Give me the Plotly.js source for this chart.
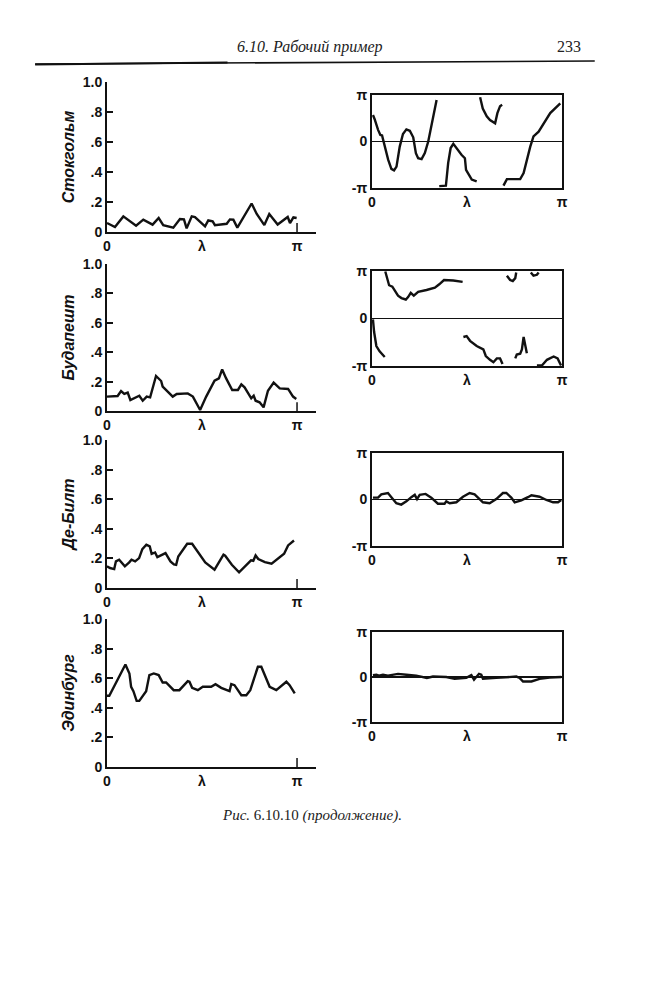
<!DOCTYPE html>
<html>
<head>
<meta charset="utf-8">
<script src="https://cdn.plot.ly/plotly-3.0.1.min.js"></script>
<style>html,body{margin:0;padding:0;background:#fff;}#chart{width:650px;height:1000px;}</style>
</head>
<body>
<div id="chart"></div>
<script>
// frequency in units of pi (0..1 = 0..π)
const stations = ["Стокгольм", "Будапешт", "Де-Билт", "Эдинбург"];

// Coherence-like amplitude (left column)
const ampStockholmX = [0,0.042,0.086,0.153,0.191,0.240,0.272,0.296,0.349,0.384,0.405,0.419,0.446,0.463,0.516,0.533,0.556,0.568,0.630,0.647,0.665,0.686,0.761,0.788,0.828,0.854,0.898,0.951,0.963,0.981,0.998];
const ampStockholmY = [0.06,0.033,0.104,0.042,0.082,0.049,0.093,0.046,0.029,0.086,0.084,0.024,0.104,0.10,0.038,0.077,0.071,0.046,0.055,0.084,0.082,0.029,0.19,0.12,0.046,0.12,0.05,0.10,0.06,0.097,0.093];

const ampBudapestX = [0,0.056,0.074,0.091,0.109,0.123,0.170,0.188,0.209,0.227,0.258,0.285,0.293,0.311,0.346,0.367,0.425,0.452,0.490,0.522,0.566,0.589,0.606,0.627,0.659,0.689,0.707,0.724,0.759,0.772,0.782,0.803,0.824,0.847,0.877,0.909,0.953,0.979,0.996];
const ampBudapestY = [0.098,0.102,0.136,0.116,0.125,0.075,0.104,0.070,0.098,0.093,0.238,0.204,0.166,0.143,0.098,0.116,0.120,0.098,0.007,0.098,0.206,0.222,0.283,0.222,0.143,0.143,0.181,0.161,0.086,0.104,0.070,0.059,0.025,0.138,0.193,0.154,0.150,0.098,0.082];

const ampDeBiltX = [0,0.016,0.038,0.047,0.064,0.094,0.117,0.129,0.148,0.169,0.186,0.207,0.225,0.235,0.253,0.265,0.308,0.334,0.352,0.364,0.375,0.399,0.422,0.448,0.483,0.517,0.566,0.613,0.622,0.657,0.695,0.718,0.758,0.770,0.782,0.796,0.831,0.866,0.901,0.932,0.953,0.984];
const ampDeBiltY = [0.146,0.135,0.128,0.180,0.191,0.146,0.173,0.191,0.180,0.202,0.263,0.292,0.281,0.231,0.240,0.209,0.236,0.180,0.160,0.157,0.213,0.258,0.299,0.299,0.231,0.173,0.124,0.225,0.218,0.157,0.106,0.135,0.187,0.184,0.220,0.196,0.175,0.164,0.202,0.231,0.288,0.321];

const ampEdinburghX = [0,0.012,0.097,0.118,0.127,0.139,0.156,0.170,0.206,0.223,0.246,0.272,0.293,0.311,0.351,0.381,0.425,0.434,0.448,0.478,0.504,0.548,0.571,0.601,0.645,0.654,0.671,0.707,0.733,0.754,0.794,0.812,0.856,0.891,0.944,0.961,0.988];
const ampEdinburghY = [0.481,0.481,0.693,0.632,0.542,0.512,0.447,0.447,0.512,0.621,0.632,0.621,0.571,0.571,0.519,0.519,0.580,0.576,0.535,0.519,0.542,0.542,0.560,0.535,0.512,0.560,0.553,0.485,0.485,0.519,0.677,0.677,0.542,0.519,0.576,0.553,0.497];

// Phase in units of pi (right column), null = break between branches
const phaseStockholmX = [0.005,0.014,0.032,0.044,0.053,0.067,0.085,0.102,0.116,0.129,0.146,0.163,0.181,0.199,0.217,0.231,0.243,0.261,0.278,0.296,0.313,0.340,null,
  0.354,0.389,0.401,0.414,0.428,0.445,0.460,0.472,0.489,0.495,0.525,0.551,null,
  0.569,0.583,0.604,0.621,0.648,0.660,0.674,0.685,null,
  0.692,0.710,0.780,0.798,0.833,0.850,0.877,0.903,0.938,0.991];
const phaseStockholmY = [0.57,0.48,0.25,0.14,0.13,-0.11,-0.39,-0.59,-0.62,-0.54,-0.11,0.16,0.26,0.23,0.09,-0.25,-0.36,-0.38,-0.25,0,0.32,0.89,null,
  -0.96,-0.95,-0.46,-0.14,-0.05,-0.14,-0.24,-0.29,-0.36,-0.61,-0.82,-0.86,null,
  0.95,0.71,0.54,0.46,0.39,0.61,0.76,0.79,null,
  -0.95,-0.81,-0.81,-0.68,-0.11,0.11,0.21,0.39,0.61,0.82];

const phaseBudapestX = [0.070,0.090,0.107,0.120,0.137,0.155,0.178,0.190,0.204,0.220,0.243,0.287,0.331,0.354,0.379,0.428,0.477,null,
  0.005,0.011,0.023,0.040,0.067,null,
  0.481,0.498,0.516,0.551,0.586,0.599,0.621,0.639,0.657,0.674,0.687,null,
  0.754,0.762,0.780,0.789,0.798,0.806,0.815,null,
  0.710,0.727,0.741,0.754,0.759,null,
  0.836,0.850,0.868,0.877,null,
  0.868,0.894,0.921,0.956,0.977,0.995];
const phaseBudapestY = [0.99,0.70,0.67,0.58,0.48,0.43,0.40,0.45,0.54,0.48,0.56,0.60,0.65,0.72,0.81,0.80,0.77,null,
  -0.02,-0.28,-0.58,-0.69,-0.81,null,
  -0.39,-0.37,-0.47,-0.58,-0.65,-0.79,-0.87,-0.92,-0.84,-0.84,-0.96,null,
  -0.84,-0.76,-0.74,-0.65,-0.39,-0.58,-0.73,null,
  0.90,0.81,0.79,0.85,0.97,null,
  0.97,0.90,0.92,0.97,null,
  -0.99,-0.99,-0.87,-0.80,-0.84,-0.99];

const phaseDeBiltX = [0.005,0.032,0.049,0.084,0.102,0.128,0.154,0.181,0.207,0.225,0.237,0.251,0.282,0.312,0.347,0.382,0.391,0.409,0.444,0.479,0.514,0.540,0.584,0.619,0.654,0.689,0.707,0.733,0.751,0.786,0.821,0.839,0.882,0.918,0.953,0.979,0.996];
const phaseDeBiltY = [0.04,0.04,0.11,0.14,0.05,-0.08,-0.11,-0.04,0.05,0.10,0.01,0.10,0.12,0.04,-0.09,-0.09,-0.04,-0.08,-0.06,0.06,0.14,0.11,-0.06,-0.08,0.01,0.14,0.14,0.04,-0.06,-0.02,0.05,0.09,0.06,-0.01,-0.06,-0.06,-0.01];

const phaseEdinburghX = [0.005,0.023,0.037,0.058,0.084,0.137,0.181,0.233,0.289,0.321,0.391,0.435,0.496,0.523,0.537,0.563,0.575,0.584,0.654,0.725,0.760,0.777,0.795,0.839,0.882,0.935,0.996];
const phaseEdinburghY = [0.04,0.05,0.03,0.05,0.03,0.07,0.05,0.03,-0.02,0.01,0,-0.04,-0.02,0.04,-0.06,0.07,0.05,-0.04,-0.02,0,0.01,-0.02,-0.10,-0.10,-0.04,-0.01,0];

const ampTickVals = [0, 0.2, 0.4, 0.6, 0.8, 1.0];
const ampTickText = ["0", ".2", ".4", ".6", ".8", "1.0"];
const freqTickVals = [0, 0.5, 1];
const freqTickText = ["0", "λ", "π"];
const phaseTickVals = [-1, 0, 1];
const phaseTickText = ["-π", "0", "π"];

const ampX = [ampStockholmX, ampBudapestX, ampDeBiltX, ampEdinburghX];
const ampY = [ampStockholmY, ampBudapestY, ampDeBiltY, ampEdinburghY];
const phX = [phaseStockholmX, phaseBudapestX, phaseDeBiltX, phaseEdinburghX];
const phY = [phaseStockholmY, phaseBudapestY, phaseDeBiltY, phaseEdinburghY];

// layout geometry (paper fractions)
const leftDom = [0.1646, 0.4862];
const rightDom = [0.5723, 0.8646];
const leftY = [[0.768, 0.918], [0.589, 0.736], [0.412, 0.560], [0.233, 0.381]];
const rightY = [[0.812, 0.905], [0.634, 0.729], [0.454, 0.547], [0.278, 0.368]];

const tickFont = {family: "Liberation Sans, Arial, sans-serif", size: 14, color: "#111", weight: "bold"};
const data = [];
const layout = {
  width: 650, height: 1000,
  margin: {l: 0, r: 0, t: 0, b: 0},
  paper_bgcolor: "#fff", plot_bgcolor: "rgba(0,0,0,0)",
  showlegend: false,
  shapes: [], annotations: []
};

for (let i = 0; i < 4; i++) {
  const a = i + 1, p = i + 5;
  data.push({x: ampX[i], y: ampY[i], xaxis: "x" + a, yaxis: "y" + a, mode: "lines",
    line: {color: "#111", width: 2.4}, hoverinfo: "skip"});
  data.push({x: phX[i], y: phY[i], xaxis: "x" + p, yaxis: "y" + p, mode: "lines",
    connectgaps: false, line: {color: "#111", width: 2.4}, hoverinfo: "skip"});

  layout["xaxis" + a] = {domain: leftDom, anchor: "y" + a, range: [0, 1.1],
    showgrid: false, zeroline: false, showline: true, linecolor: "#111", linewidth: 2,
    tickvals: freqTickVals, ticktext: freqTickText, ticks: "", tickfont: tickFont, fixedrange: true};
  layout["yaxis" + a] = {domain: leftY[i], anchor: "x" + a, range: [0, 1.0],
    showgrid: false, zeroline: false, showline: true, linecolor: "#111", linewidth: 2,
    tickvals: ampTickVals, ticktext: ampTickText, ticks: "inside", ticklen: 6, tickwidth: 2, tickcolor: "#111",
    tickfont: tickFont, fixedrange: true,
    title: {text: stations[i], standoff: 4,
      font: {family: "Liberation Sans, Arial, sans-serif", size: 16, color: "#111", weight: "bold", style: "italic"}}};

  layout["xaxis" + p] = {domain: rightDom, anchor: "y" + p, range: [0, 1],
    showgrid: false, zeroline: false, showline: true, mirror: true, linecolor: "#111", linewidth: 2,
    tickvals: freqTickVals, ticktext: freqTickText, ticks: "", tickfont: tickFont, fixedrange: true};
  layout["yaxis" + p] = {domain: rightY[i], anchor: "x" + p, range: [-1, 1],
    showgrid: false, zeroline: true, zerolinecolor: "#111", zerolinewidth: 1.6,
    showline: true, mirror: true, linecolor: "#111", linewidth: 2,
    tickvals: phaseTickVals, ticktext: phaseTickText, ticks: "", tickfont: tickFont, fixedrange: true};

  // small tick mark at π on the left-column frequency axis
  layout.shapes.push({type: "line", xref: "x" + a, yref: "y" + a, x0: 1, x1: 1, y0: 0, y1: 0.06,
    line: {color: "#111", width: 1.5}});
}

// page header rule
layout.shapes.push({type: "line", xref: "paper", yref: "paper", x0: 0.054, x1: 0.915, y0: 0.936, y1: 0.939,
  line: {color: "#111", width: 1.6}});
layout.shapes.push({type: "line", xref: "paper", yref: "paper", x0: 0.054, x1: 0.35, y0: 0.9355, y1: 0.9375,
  line: {color: "#111", width: 2.2}});

const serif = "Liberation Serif, Times New Roman, serif";
layout.annotations.push({xref: "paper", yref: "paper", x: 310/650, y: 1 - 47/1000, yanchor: "middle",
  text: "<i>6.10. Рабочий пример</i>",
  showarrow: false, font: {family: serif, size: 16, color: "#222"}});
layout.annotations.push({xref: "paper", yref: "paper", x: 583/650, y: 1 - 46/1000, yanchor: "middle", text: "233",
  showarrow: false, font: {family: serif, size: 16, color: "#222"}});
layout.annotations.push({xref: "paper", yref: "paper", x: 312/650, y: 1 - 815/1000, yanchor: "middle",
  text: "<i>Рис.</i> 6.10.10 <i>(продолжение).</i>",
  showarrow: false, font: {family: serif, size: 15, color: "#222"}});

Plotly.newPlot("chart", data, layout, {staticPlot: true, displayModeBar: false});
</script>
</body>
</html>
